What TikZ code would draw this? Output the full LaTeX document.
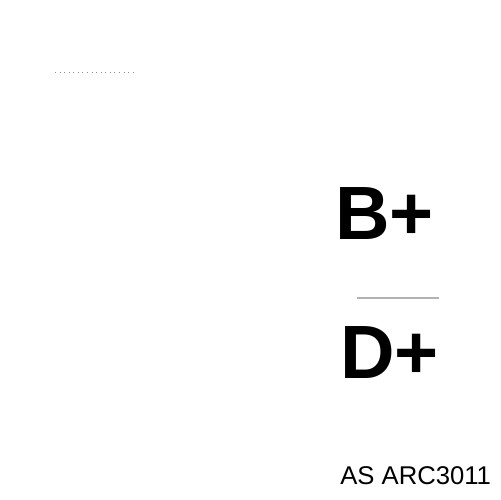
\documentclass[tikz,border=0pt]{standalone}
\usepackage{fontspec}
\setmainfont{Liberation Sans}
\tikzstyle{label_big} = [anchor=base west, inner sep=0pt, font=\bfseries\fontsize{43}{47}\selectfont]
\tikzstyle{label_small} = [anchor=base west, inner sep=0pt, font=\fontsize{14.6}{17}\selectfont]
\tikzstyle{rule_faint} = [line width=0.6pt, black!30]

\begin{document}
\begin{tikzpicture}[x=0.02cm,y=-0.02cm]
			\useasboundingbox (0,0) rectangle (500,500);
			\node (B) at (335,239) [label_big] {B+};
			\node (D) at (340,378) [label_big] {D+};
			\node (AS) at (340,484) [label_small] {AS ARC3011};
			
			\coordinate (T1) at (55,72);
			\coordinate (T2) at (135,72);
			\coordinate (M1) at (357,298);
			\coordinate (M2) at (439,298);
			
			\draw[rule_faint, dotted, black!45, line width=0.5pt] (T1)--(T2);
			\draw[rule_faint] (M1)--(M2);
		\end{tikzpicture}
\end{document}
